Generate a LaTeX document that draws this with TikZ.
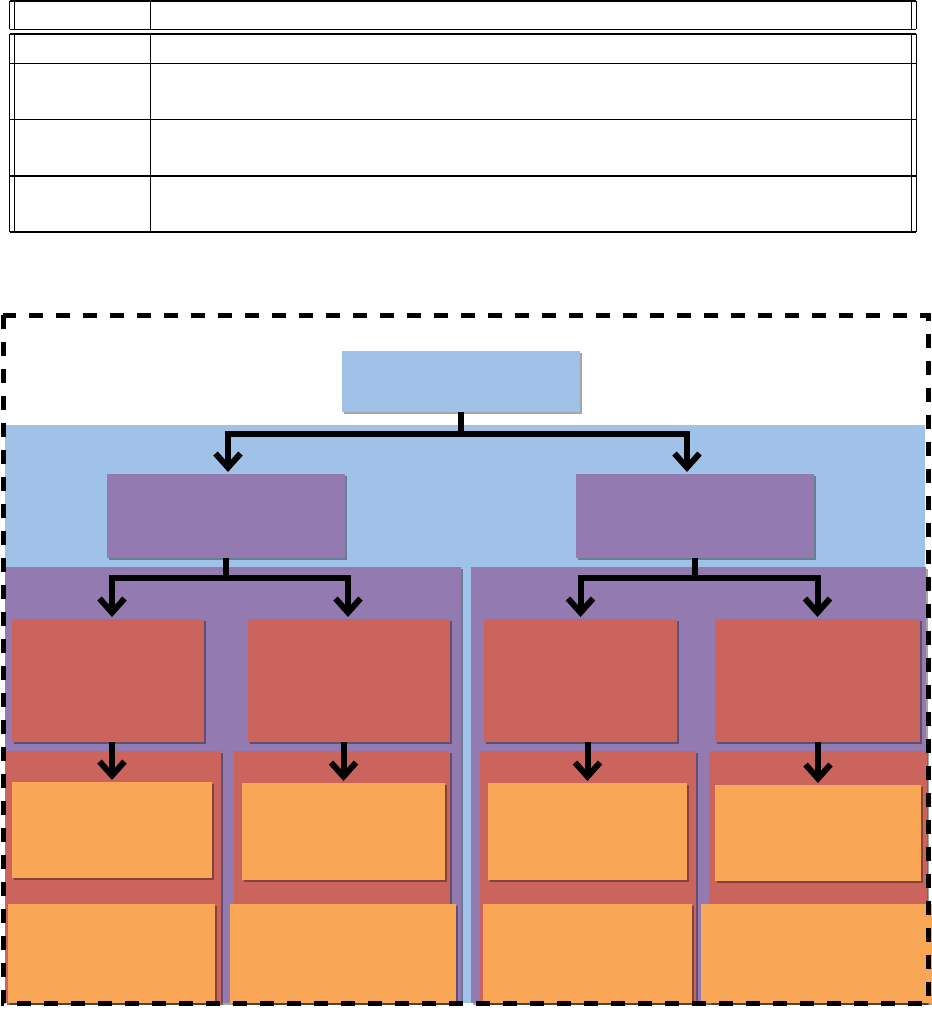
\documentclass[tikz,border=0pt]{standalone}
\usetikzlibrary{arrows.meta,shadows,calc}
\definecolor{cblue}{RGB}{160,194,232}
\definecolor{cpurple}{RGB}{147,122,176}
\definecolor{cred}{RGB}{204,100,94}
\definecolor{corange}{RGB}{249,166,86}
\tikzset{
  shd/.style={drop shadow={shadow xshift=1.5pt,shadow yshift=-1.8pt,opacity=0.35,fill=black}},
  boxbase/.style={inner sep=0pt,outer sep=0pt,draw=none,rectangle},
  bluebox/.style={boxbase,fill=cblue,shd},
  purplebox/.style={boxbase,fill=cpurple,shd},
  redbox/.style={boxbase,fill=cred,shd},
  orangebox/.style={boxbase,fill=corange,shd},
  conn/.style={line width=6pt,line join=miter,draw=black},
  arr/.style={conn,-{Straight Barb[length=14pt,width=25pt]},shorten >=2pt},
  tabh/.style={line width=1.6pt},
  tabv/.style={line width=1.2pt},
  frame/.style={line width=5pt,dash pattern=on 14pt off 13pt}
}
\begin{document}
\begin{tikzpicture}[x=1pt,y=-1pt]
\useasboundingbox (0,0) rectangle (932,1013);
% ---- tables ----
\draw[tabh] (9.5,0.9) -- (916.3,0.9);
\draw[tabh] (9.5,29.3) -- (916.3,29.3);
\draw[tabv] (9.7,0.9) -- (9.7,29.3);
\draw[tabv] (14.3,0.9) -- (14.3,29.3);
\draw[tabv] (150.7,0.9) -- (150.7,29.3);
\draw[tabv] (911.7,0.9) -- (911.7,29.3);
\draw[tabv] (916.3,0.9) -- (916.3,29.3);
\foreach \yy in {34,63.3,119.6,176,232}{\draw[tabh] (9.5,\yy) -- (916.3,\yy);}
\draw[tabv] (9.7,34) -- (9.7,232);
\draw[tabv] (14.3,34) -- (14.3,232);
\draw[tabv] (150.7,34) -- (150.7,232);
\draw[tabv] (911.7,34) -- (911.7,232);
\draw[tabv] (916.3,34) -- (916.3,232);
% ---- background panels ----
\fill[cblue] (5,425) rectangle (925,1003);
\fill[cpurple,shd] (5,567) rectangle (461,1003);
\fill[cpurple,shd] (471,567) rectangle (926,1003);
\fill[cred,shd] (5,751) rectangle (221,1003);
\fill[cred,shd] (234,751) rectangle (450,1003);
\fill[cred,shd] (480,751) rectangle (696,1003);
\fill[cred,shd] (709,751) rectangle (927,1003);
% ---- boxes ----
\node[bluebox,minimum width=238pt,minimum height=61pt] (t) at (461,381.5) {};
\node[purplebox,minimum width=238pt,minimum height=84pt] (p1) at (226,516) {};
\node[purplebox,minimum width=238pt,minimum height=84pt] (p2) at (695,516) {};
\node[redbox,minimum width=192pt,minimum height=123pt] (r1) at (108,680.5) {};
\node[redbox,minimum width=202pt,minimum height=123pt] (r2) at (349,680.5) {};
\node[redbox,minimum width=193pt,minimum height=123pt] (r3) at (580.5,680.5) {};
\node[redbox,minimum width=205pt,minimum height=123pt] (r4) at (817.5,680.5) {};
\node[orangebox,minimum width=200pt,minimum height=96pt] (o1) at (112,830) {};
\node[orangebox,minimum width=203pt,minimum height=97pt] (o2) at (343.5,831.5) {};
\node[orangebox,minimum width=199pt,minimum height=97pt] (o3) at (587.5,831.5) {};
\node[orangebox,minimum width=206pt,minimum height=96pt] (o4) at (818,833) {};
\node[orangebox,minimum width=207pt,minimum height=99pt] (b1) at (111.5,953.5) {};
\node[orangebox,minimum width=226pt,minimum height=99pt] (b2) at (343,953.5) {};
\node[orangebox,minimum width=209pt,minimum height=99pt] (b3) at (587.5,953.5) {};
\node[orangebox,minimum width=231pt,minimum height=99pt] (b4) at (816.5,953.5) {};
% ---- connectors ----
\coordinate (j0) at ($(t.south)+(0,22)$);
\coordinate (j1) at ($(p1.south)+(0,20)$);
\coordinate (j2) at ($(p2.south)+(0,20)$);
\draw[conn] (t.south) -- (j0);
\draw[arr] (j0) -| ([xshift=2pt]p1.north);
\draw[arr] (j0) -| ([xshift=-8pt]p2.north);
\draw[conn] (p1.south) -- (j1);
\draw[arr] (j1) -| ([xshift=4pt]r1.north);
\draw[arr] (j1) -| ([xshift=-1pt]r2.north);
\draw[conn] (p2.south) -- (j2);
\draw[arr] (j2) -| ([xshift=0pt]r3.north);
\draw[arr] (j2) -| ([xshift=0pt]r4.north);
\draw[arr] (r1.south -| o1.north) -- (o1.north);
\draw[arr] (r2.south -| o2.north) -- (o2.north);
\draw[arr] (r3.south -| o3.north) -- (o3.north);
\draw[arr] (r4.south -| o4.north) -- (o4.north);
% ---- dashed frame ----
\draw[frame] (3,315) rectangle (928,1003);
\end{tikzpicture}
\end{document}
